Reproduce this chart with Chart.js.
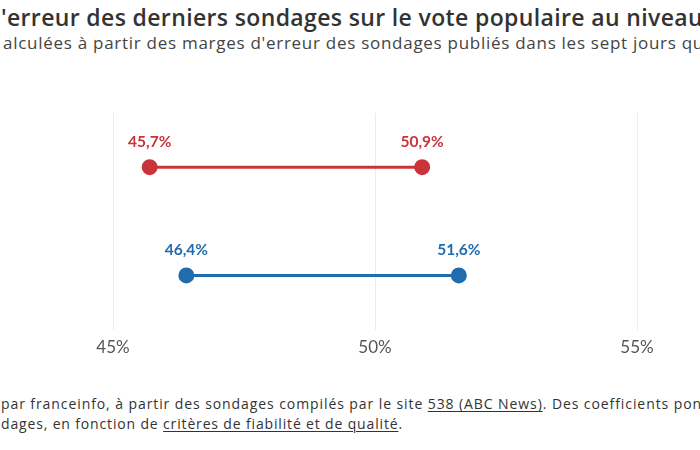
<!DOCTYPE html>
<html><head><meta charset="utf-8">
<script src="https://cdn.jsdelivr.net/npm/chart.js@4/dist/chart.umd.min.js"></script>
<style>
html,body{margin:0;padding:0;background:#fff;width:700px;height:450px;overflow:hidden;font-family:"Open Sans",Lato,sans-serif;}
.t{position:absolute;white-space:nowrap;}
#title{top:1px;font-size:23px;font-weight:600;color:#333;}
#sub{top:31px;font-size:17px;color:#444;}
.foot{font-size:14px;color:#333;}
#f1{top:394px;} #f2{top:414px;}
.hide{visibility:hidden;}
u{text-decoration:underline;text-underline-offset:2px;}
#wrap{position:absolute;left:0;top:0;width:700px;height:450px;}
</style></head>
<body>
<div id="title" class="t"><span class="hide pre">Marge d</span><span class="vis">'erreur des derniers sondages sur le vote populaire au niveau</span> national</div>
<div id="sub" class="t"><span class="hide pre">Fourchettes c</span><span class="vis">alculées à partir des marges d'erreur des sondages publiés dans les sept jours qu</span>i précèdent l'élection</div>
<div id="f1" class="t foot"><span class="hide pre">Calculs réalisés </span><span class="vis">par franceinfo, à partir des sondages compilés par le site <u>538 (ABC News)</u>. Des coefficients pon</span>dérateurs sont appliqués</div>
<div id="f2" class="t foot"><span class="hide pre">aux son</span><span class="vis">dages, en fonction de <u>critères de fiabilité et de qualité</u>.</span></div>
<div id="wrap"><canvas id="c" width="700" height="450"></canvas></div>
<script>
// Data
const candidates = ['Donald Trump', 'Kamala Harris'];
const lowValues = [45.7, 46.4];
const highValues = [50.9, 51.6];
const seriesColors = ['#c9343b', '#1f6cae'];
const tickValues = [45, 50, 55];

// position cut-off texts: [start x, end x] of the visible part
const spans = {title: [1, 703], sub: [3, 704], f1: [1, 702], f2: [1, 403]};
for (const id in spans) {
  const el = document.getElementById(id);
  const pre = el.querySelector('.pre');
  const vis = el.querySelector('.vis');
  const target = spans[id][1] - spans[id][0];
  const n = vis.textContent.length;
  const ls = (target - vis.getBoundingClientRect().width) / n;
  el.style.letterSpacing = ls + 'px';
  el.style.left = (spans[id][0] - pre.getBoundingClientRect().width) + 'px';
}

const fmt = v => v.toFixed(1).replace('.', ',') + '%';

const datasets = candidates.map((name, i) => ({
  label: name,
  data: [{x: lowValues[i], y: name}, {x: highValues[i], y: name}],
  borderColor: seriesColors[i],
  backgroundColor: seriesColors[i],
  pointBackgroundColor: seriesColors[i],
  pointBorderColor: seriesColors[i],
  borderWidth: 3,
  pointRadius: 6.5,
  pointHoverRadius: 6.5,
  tension: 0
}));

const labelPlugin = {
  id: 'valLabels',
  afterDatasetsDraw(chart) {
    const ctx = chart.ctx;
    ctx.save();
    ctx.font = 'bold 15.5px Lato, "Open Sans", sans-serif';
    ctx.textAlign = 'center';
    ctx.textBaseline = 'middle';
    chart.data.datasets.forEach((ds, i) => {
      chart.getDatasetMeta(i).data.forEach((pt, j) => {
        ctx.fillStyle = ds.borderColor;
        ctx.fillText(fmt(ds.data[j].x), pt.x, pt.y - 25);
      });
    });
    ctx.restore();
  }
};

new Chart(document.getElementById('c'), {
  type: 'line',
  data: {labels: candidates, datasets},
  plugins: [labelPlugin],
  options: {
    responsive: false,
    animation: false,
    layout: {padding: {left: 113, right: 63, top: 113, bottom: 84}},
    plugins: {legend: {display: false}, tooltip: {enabled: false}},
    scales: {
      x: {
        type: 'linear', min: 45, max: 55,
        afterBuildTicks: s => { s.ticks = tickValues.map(v => ({value: v})); },
        grid: {color: '#ececec', lineWidth: 1, drawTicks: false},
        border: {display: false},
        ticks: {
          padding: 8,
          color: '#555',
          font: {family: 'Lato, "Open Sans", sans-serif', size: 17},
          callback: v => v + '%'
        }
      },
      y: {
        type: 'category',
        labels: candidates,
        offset: true,
        display: false
      }
    }
  }
});
</script>
</body></html>
